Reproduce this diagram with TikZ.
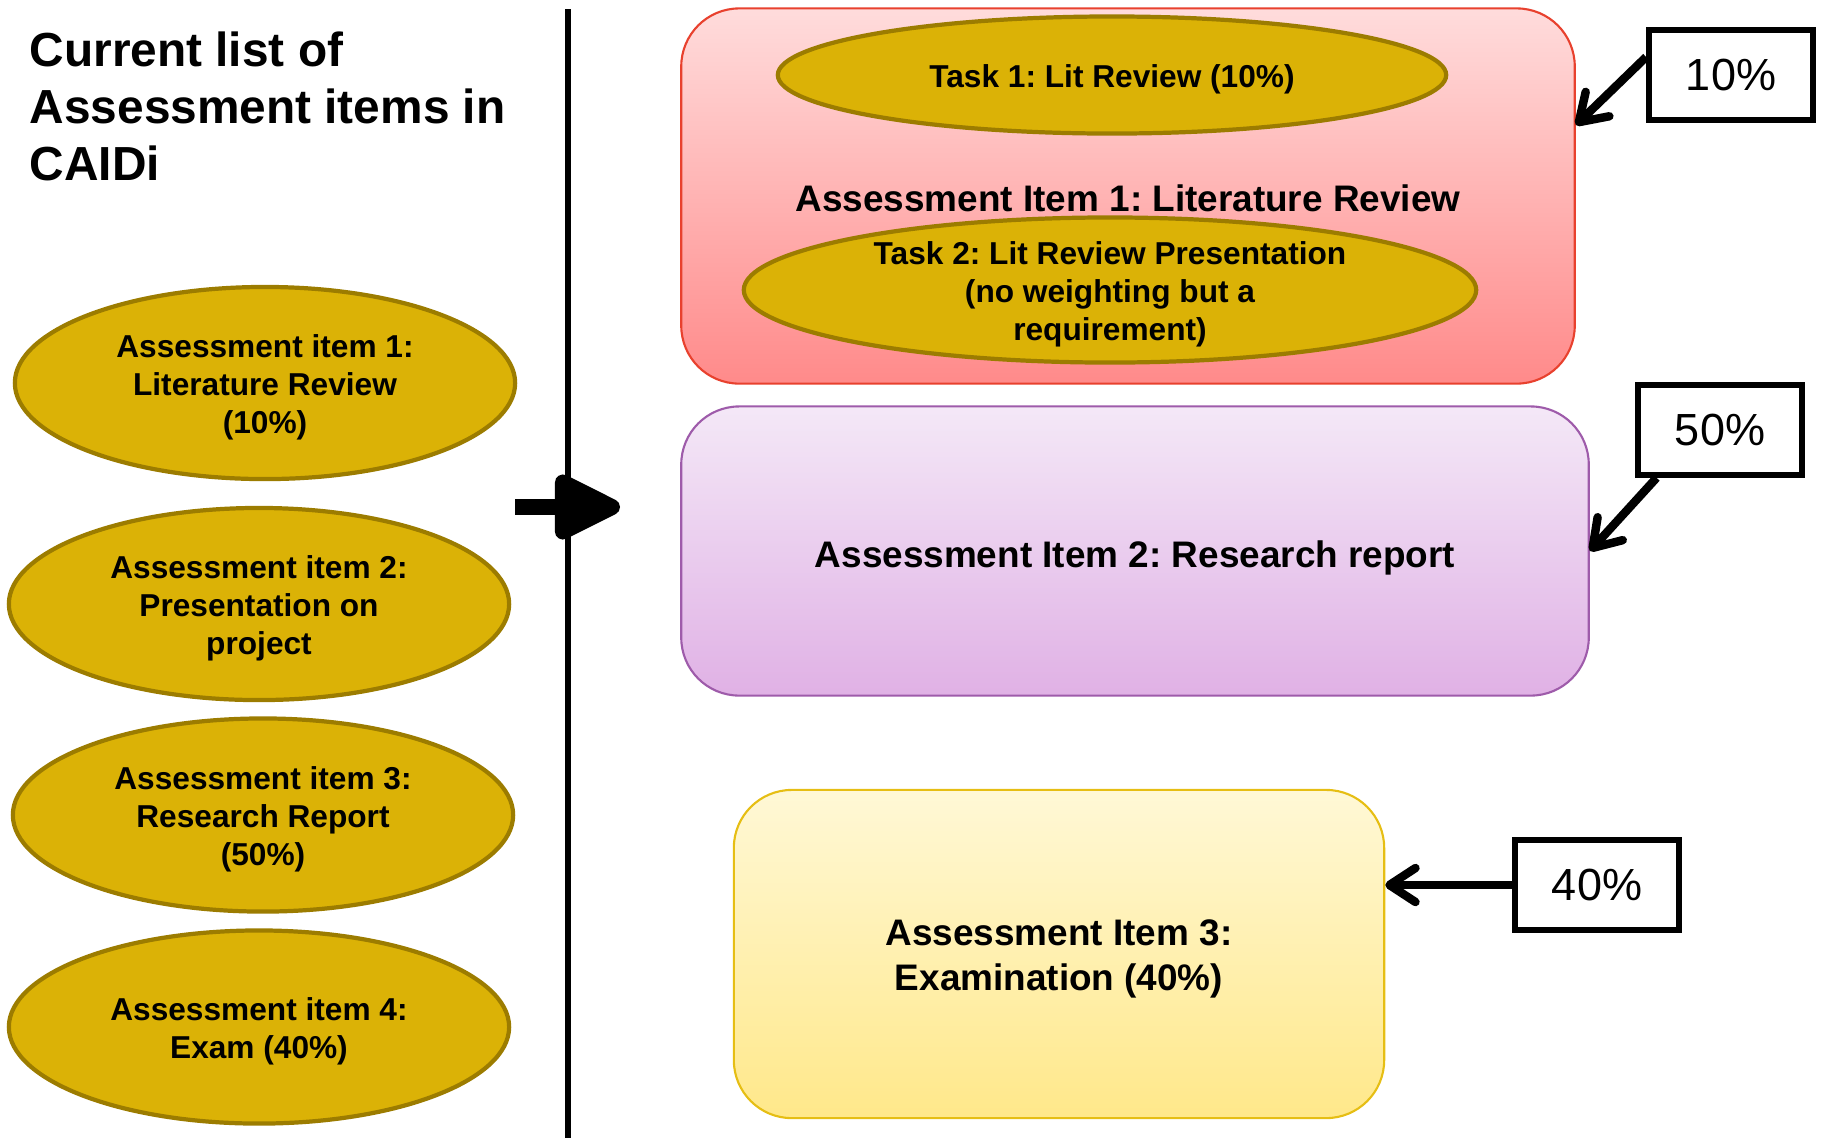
\documentclass[tikz,border=0pt]{standalone}
\usepackage{fontspec}
\setmainfont{Liberation Sans}
\usepackage{xcolor}
\usepackage{tikz}
\usetikzlibrary{arrows.meta,shapes}
\frenchspacing
\definecolor{itemfill}{HTML}{DBB206}
\definecolor{itemline}{HTML}{9C7C00}
\tikzstyle{item}=[ellipse,draw=itemline,fill=itemfill,line width=1.2pt,inner sep=0pt,align=center,font=\fontsize{9}{10.8}\selectfont\bfseries]
\tikzstyle{block}=[rectangle,rounded corners=0.58cm,line width=0.6pt,inner sep=0pt,align=center,font=\fontsize{10.5}{12.8}\selectfont\bfseries]
\tikzstyle{weight}=[rectangle,draw=black,line width=1.6pt,minimum width=1.64cm,minimum height=0.9cm,font=\fontsize{12.8}{15}\selectfont]
\tikzstyle{pointer}=[line width=2.4pt,-{Straight Barb[length=2.6mm,width=3.4mm,round]}]

\begin{document}
\begin{tikzpicture}[x=0.01cm,y=-0.01cm]
  \useasboundingbox (0,0) rectangle (1824,1138);
  \node at (29,31) [anchor=north west,inner sep=0pt,align=left,font=\fontsize{13.6}{16.2}\selectfont\bfseries] (Title) {Current list of\\Assessment items in\\CAIDi};
  \node at (265,383) [item,minimum width=5cm,minimum height=1.92cm] (ItemA) {\rule{0pt}{9pt}Assessment item 1:\\Literature Review\\(10\%)};
  \node at (259,604) [item,minimum width=5cm,minimum height=1.92cm] (ItemB) {\rule{0pt}{9pt}Assessment item 2:\\Presentation on\\project};
  \node at (263,815) [item,minimum width=5cm,minimum height=1.93cm] (ItemC) {\rule{0pt}{9pt}Assessment item 3:\\Research Report\\(50\%)};
  \node at (259,1027) [item,minimum width=5cm,minimum height=1.93cm] (ItemD) {\rule{0pt}{9pt}Assessment item 4:\\Exam (40\%)};
  \coordinate (DividerTop) at (568,9);
  \coordinate (DividerBottom) at (568,1138);
  \coordinate (ArrowStart) at (515,507);
  \coordinate (ArrowEnd) at (620,507);
  \draw [line width=1.7pt] (DividerTop) -- (DividerBottom);
  \draw [line width=4.5pt,-{Triangle[length=7.6mm,width=7mm,round]}] (ArrowStart) -- (ArrowEnd);
  \node at (1128,196) [block,draw={rgb,255:red,232;green,65;blue,46},top color={rgb,255:red,255;green,220;blue,220},bottom color={rgb,255:red,255;green,138;blue,138},minimum width=8.93cm,minimum height=3.75cm] (LitBox) {\rule{0pt}{8.7pt}Assessment Item 1: Literature Review};
  \node at (1112,75) [item,minimum width=6.68cm,minimum height=1.17cm] (TaskA) {\rule{0pt}{9pt}Task 1: Lit Review (10\%)};
  \node at (1110,290) [item,inner ysep=-0.1cm,minimum width=7.32cm,minimum height=1.45cm] (TaskB) {\rule{0pt}{9pt}Task 2: Lit Review Presentation\\(no weighting but a\\requirement)};
  \node at (1135,551) [block,draw={rgb,255:red,158;green,91;blue,170},top color={rgb,255:red,244;green,232;blue,247},bottom color={rgb,255:red,224;green,177;blue,229},minimum width=9.07cm,minimum height=2.89cm] (ReportBox) {\rule{0pt}{11.5pt}Assessment Item 2: Research report};
  \node at (1059,954) [block,draw={rgb,255:red,230;green,190;blue,20},top color={rgb,255:red,255;green,248;blue,214},bottom color={rgb,255:red,255;green,232;blue,138},minimum width=6.5cm,minimum height=3.28cm] (ExamBox) {\rule{0pt}{10pt}Assessment Item 3:\\Examination (40\%)};
  \node at (1731,75) [weight] (TenPct) {10\%};
  \node at (1720,430) [weight] (FiftyPct) {50\%};
  \node at (1597,885) [weight] (FortyPct) {40\%};
  \draw [pointer] (TenPct.168) to (LitBox.9);
  \draw [pointer] (FiftyPct.217) to (ReportBox.east);
  \draw [pointer] (FortyPct.west) to (FortyPct.west -| ExamBox.east);
\end{tikzpicture}
\end{document}
